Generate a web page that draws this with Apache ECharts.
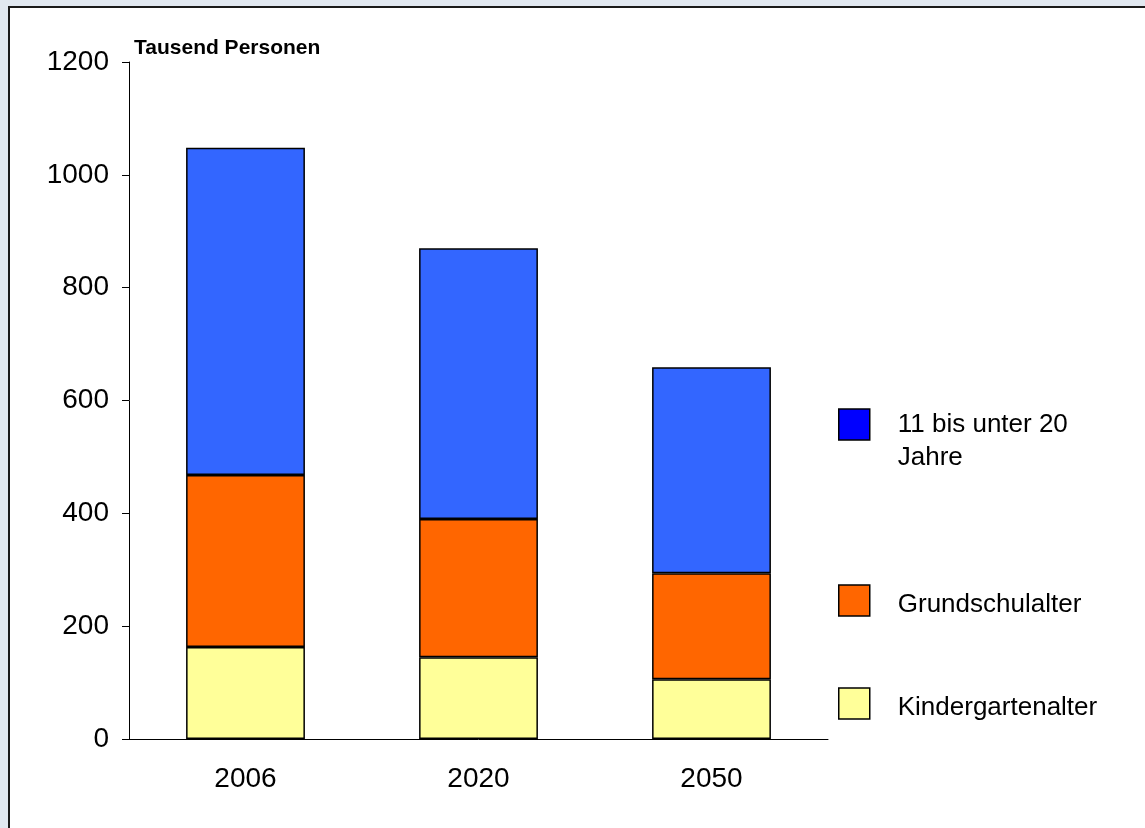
<!DOCTYPE html>
<html>
<head>
<meta charset="utf-8">
<script src="https://cdn.jsdelivr.net/npm/echarts@6/dist/echarts.min.js"></script>
<style>
  html, body { margin: 0; padding: 0; background: #e1e8f0; }
  #chart { width: 1145px; height: 828px; }
</style>
</head>
<body>
<div id="chart"></div>
<script>
// Population by age group (thousands)
const years = ['2006', '2020', '2050'];
const kindergarten = [163, 145, 106];
const grundschule = [305, 245, 188];
const jugend = [580, 480, 365];
const yTicks = [0, 200, 400, 600, 800, 1000, 1200];

const names = ['Kindergartenalter', 'Grundschulalter', '11 bis unter 20 Jahre'];
const font = 'Liberation Sans, Arial, sans-serif';

const chart = echarts.init(document.getElementById('chart'));

// small spacer line above each single-line label nudges the text a little below the swatch centre
const legendText = {
  fontFamily: font, fontSize: 26, color: '#000', padding: [0, 0, 0, 23],
  rich: {
    s: { fontSize: 8, lineHeight: 8 },
    t: { fontFamily: font, fontSize: 26, lineHeight: 31, color: '#000' }
  }
};

function legendAt(name, top, extra) {
  return Object.assign({
    orient: 'vertical',
    left: 838,
    top: top,
    padding: 0,
    itemWidth: 31,
    itemHeight: 31,
    selectedMode: false,
    icon: 'rect',
    itemStyle: { borderColor: '#000', borderWidth: 1.5 },
    formatter: n => '{s| }\n{t|' + n + '}',
    textStyle: legendText,
    data: [name]
  }, extra || {});
}

chart.setOption({
  backgroundColor: 'transparent',
  animation: false,
  graphic: [{
    type: 'rect',
    z: -10,
    shape: { x: 9, y: 7, width: 1200, height: 900 },
    style: { fill: '#fff', stroke: '#1a1a1a', lineWidth: 2 }
  }],
  title: {
    text: 'Tausend Personen',
    left: 129,
    top: 33,
    textStyle: { fontFamily: font, fontSize: 21, fontWeight: 'bold', color: '#000' }
  },
  legend: [
    // wrapped label: an empty first line keeps "11 bis unter 20" level with the swatch
    legendAt(names[2], 375, {
      formatter: () => ' \n11 bis unter 20\nJahre',
      data: [{ name: names[2], itemStyle: { color: '#0000ff' } }],
      textStyle: { fontFamily: font, fontSize: 26, color: '#000', padding: [0, 0, 0, 23], lineHeight: 33 }
    }),
    legendAt(names[1], 581),
    legendAt(names[0], 684)
  ],
  grid: { left: 129, top: 62, width: 699, height: 677, containLabel: false },
  xAxis: {
    type: 'category',
    data: years,
    axisLine: { lineStyle: { color: '#000', width: 1 } },
    axisTick: { length: 7, lineStyle: { color: '#000' } },
    axisLabel: { fontFamily: font, fontSize: 28, color: '#000', margin: 26 }
  },
  yAxis: {
    type: 'value',
    min: 0,
    max: 1200,
    interval: 200,
    splitLine: { show: false },
    axisLine: { show: true, lineStyle: { color: '#000', width: 1 } },
    axisTick: { show: true, length: 7, lineStyle: { color: '#000' } },
    axisLabel: {
      fontFamily: font, fontSize: 28, color: '#000', margin: 20,
      formatter: v => yTicks.includes(v) ? String(v) : ''
    }
  },
  series: [
    { name: names[0], data: kindergarten, color: '#ffff99' },
    { name: names[1], data: grundschule, color: '#ff6600' },
    { name: names[2], data: jugend, color: '#3366ff' }
  ].map(s => ({
    type: 'bar',
    stack: 'total',
    name: s.name,
    data: s.data,
    barWidth: '51%',
    itemStyle: { color: s.color, borderColor: '#000', borderWidth: 1.5 }
  }))
});
</script>
</body>
</html>
